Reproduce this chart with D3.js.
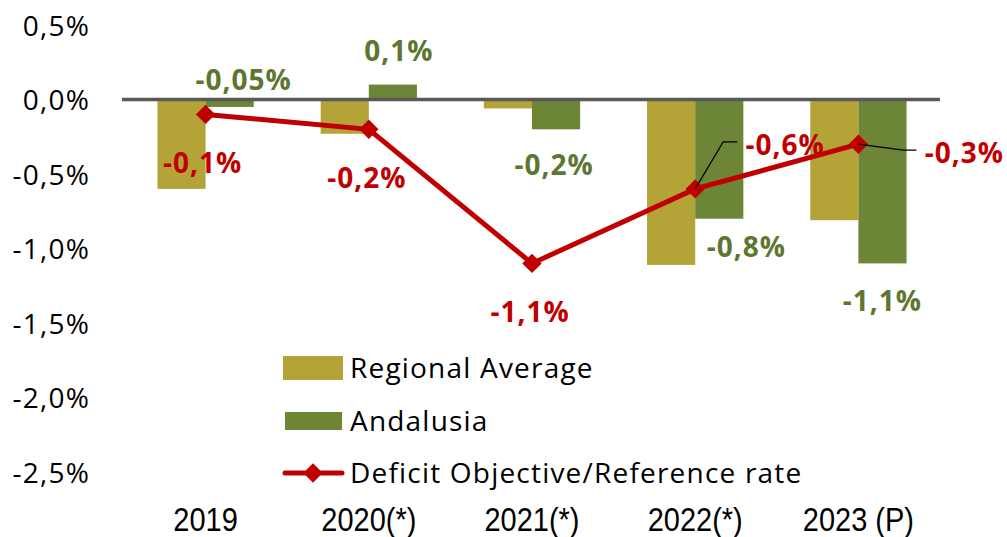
<!DOCTYPE html>
<html><head><meta charset="utf-8">
<script src="https://cdn.jsdelivr.net/npm/d3@7"></script>
<style>body{margin:0;background:#fff}svg{display:block;font-family:"Open Sans",sans-serif}</style>
</head><body><svg id="c" width="1007" height="537"></svg>
<script>
const categories = ["2019","2020(*)","2021(*)","2022(*)","2023 (P)"];
const regionalAverage = [-0.60,-0.23,-0.06,-1.11,-0.81];
const andalusia = [-0.05,0.10,-0.20,-0.80,-1.10];
const deficitObjective = [-0.1,-0.2,-1.1,-0.6,-0.3];
const andalusiaLabels = ["-0,05%","0,1%","-0,2%","-0,8%","-1,1%"];
const objectiveLabels = ["-0,1%","-0,2%","-1,1%","-0,6%","-0,3%"];
const yTicks = [0.5,0,-0.5,-1,-1.5,-2,-2.5];
const seriesNames = ["Regional Average","Andalusia","Deficit Objective/Reference rate"];

const colReg="#B4A337", colAnd="#6D8536", colAndTxt="#5E7630", colRed="#C00000";
const svg=d3.select("#c");
const y=d3.scaleLinear().domain([0.5,-2.5]).range([25,472]);
const x=d3.scaleBand().domain(categories).range([124,940]).paddingInner(0.41).paddingOuter(0.205);
const xs=d3.scaleBand().domain(["r","a"]).range([0,x.bandwidth()]);
const cx=c=>x(c)+x.bandwidth()/2;

// y axis labels
const yAxis=d3.axisLeft(y).tickValues(yTicks).tickSize(0).tickPadding(0)
  .tickFormat(d=>d3.format(".1f")(d).replace("−","-").replace(".",",")+"%");
const ga=svg.append("g").attr("transform","translate(90,0)").call(yAxis);
ga.select(".domain").remove();
ga.selectAll("text").attr("font-size",28).attr("letter-spacing",1.2).attr("fill","#000").attr("font-family","'Open Sans', sans-serif").attr("dy","0.36em");

// x labels
const xAxis=d3.axisBottom(x).tickSize(0).tickPadding(0);
const gx=svg.append("g").call(xAxis);
gx.select(".domain").remove();
gx.selectAll("text").attr("font-size",29).attr("fill","#000").attr("font-family","'Liberation Sans Narrow', sans-serif")
  .attr("y",0).attr("dy",0).attr("transform","translate(0,531) scale(1,1.12)");

// bars
svg.append("g").selectAll("rect").data(categories).join("rect")
  .attr("x",c=>x(c)+xs("r")).attr("width",xs.bandwidth())
  .attr("y",(c,i)=>y(Math.max(0,regionalAverage[i]))).attr("height",(c,i)=>Math.abs(y(regionalAverage[i])-y(0)))
  .attr("fill",colReg);
svg.append("g").selectAll("rect").data(categories).join("rect")
  .attr("x",c=>x(c)+xs("a")).attr("width",xs.bandwidth())
  .attr("y",(c,i)=>y(Math.max(0,andalusia[i]))).attr("height",(c,i)=>Math.abs(y(andalusia[i])-y(0)))
  .attr("fill",colAnd);

// zero line
svg.append("line").attr("x1",122).attr("x2",940).attr("y1",y(0)).attr("y2",y(0)).attr("stroke","#595959").attr("stroke-width",3.5);

// line
const line=d3.line().x((d,i)=>cx(categories[i])).y(d=>y(d));
svg.append("path").datum(deficitObjective).attr("d",line).attr("fill","none").attr("stroke",colRed).attr("stroke-width",5);
const diamond=d3.symbol().type(d3.symbolDiamond2).size(240);
svg.append("g").selectAll("path").data(deficitObjective).join("path")
  .attr("transform",(d,i)=>`translate(${cx(categories[i])},${y(d)})`).attr("d",diamond).attr("fill",colRed);

// andalusia labels: offsets relative to bar end
const aOff=[[14,-27],[6,-34],[-2,36],[27,28],[0,38]];
svg.append("g").selectAll("text").data(andalusia).join("text")
  .attr("x",(d,i)=>x(categories[i])+xs("a")+xs.bandwidth()/2+aOff[i][0])
  .attr("y",(d,i)=>y(d)+aOff[i][1]).attr("dy","0.36em")
  .attr("text-anchor","middle").attr("font-size",28).attr("letter-spacing",1).attr("font-weight","bold").attr("fill",colAndTxt)
  .text((d,i)=>andalusiaLabels[i]);

// objective labels
const oOff=[[-3,49],[-2,49],[-2,49],[90,-44],[106,9]];
svg.append("g").selectAll("text").data(deficitObjective).join("text")
  .attr("x",(d,i)=>cx(categories[i])+oOff[i][0]).attr("y",(d,i)=>y(d)+oOff[i][1]).attr("dy","0.36em")
  .attr("text-anchor","middle").attr("font-size",28).attr("letter-spacing",1).attr("font-weight","bold").attr("fill",colRed)
  .text((d,i)=>objectiveLabels[i]);
// leader lines
const p3=[cx(categories[3]),y(deficitObjective[3])], p4=[cx(categories[4]),y(deficitObjective[4])];
svg.append("polyline").attr("points",`${p3[0]},${p3[1]} ${p3[0]+28},${p3[1]-47} ${p3[0]+42},${p3[1]-47}`).attr("fill","none").attr("stroke","#000").attr("stroke-width",1.2);
svg.append("polyline").attr("points",`${p4[0]},${p4[1]} ${p4[0]+45},${p4[1]+6} ${p4[0]+58},${p4[1]+6}`).attr("fill","none").attr("stroke","#000").attr("stroke-width",1.2);

// legend
const lg=svg.append("g");
lg.append("rect").attr("x",283).attr("y",356).attr("width",60).attr("height",24).attr("fill",colReg);
lg.append("rect").attr("x",285).attr("y",412).attr("width",57).attr("height",18).attr("fill",colAnd);
lg.append("line").attr("x1",285).attr("x2",342).attr("y1",473).attr("y2",473).attr("stroke",colRed).attr("stroke-width",5).attr("stroke-linecap","round");
lg.append("path").attr("transform","translate(313,473)").attr("d",diamond).attr("fill",colRed);
lg.selectAll("text").data(seriesNames).join("text")
  .attr("x",350).attr("y",(d,i)=>[368,421,473][i]).attr("dy","0.36em")
  .attr("font-size",28).attr("letter-spacing",1.2).attr("fill","#000").text(d=>d);
</script></body></html>
